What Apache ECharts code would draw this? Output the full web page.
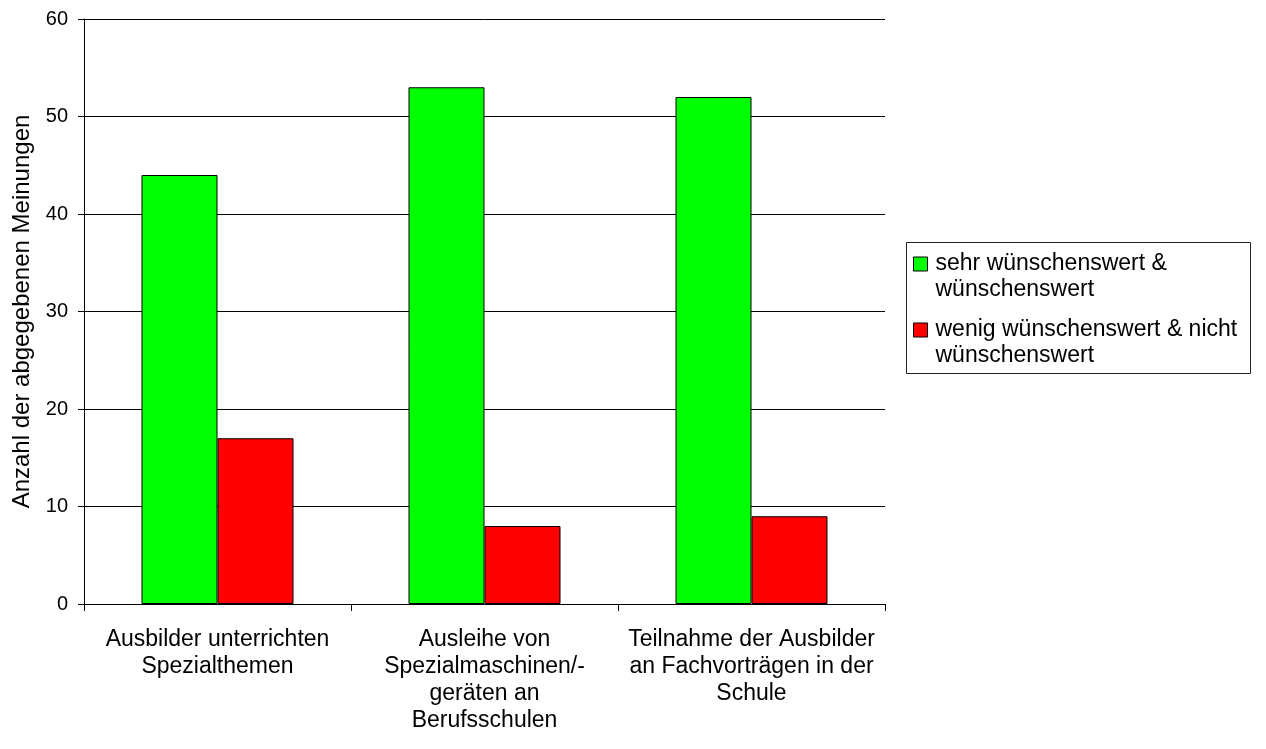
<!DOCTYPE html>
<html>
<head>
<meta charset="utf-8">
<script src="https://cdn.jsdelivr.net/npm/echarts@6/dist/echarts.min.js"></script>
<style>
html,body{margin:0;padding:0;background:#fff;}
#chart{width:1266px;height:749px;}
</style>
</head>
<body>
<div id="chart"></div>
<script>
const categories = [
  'Ausbilder unterrichten\nSpezialthemen',
  'Ausleihe von\nSpezialmaschinen/-\ngeräten an\nBerufsschulen',
  'Teilnahme der Ausbilder\nan Fachvorträgen in der\nSchule'
];
const seriesNames = [
  'sehr wünschenswert &\nwünschenswert',
  'wenig wünschenswert & nicht\nwünschenswert'
];
const positiveValues = [44, 53, 52];
const negativeValues = [17, 8, 9];
const yAxisName = 'Anzahl der abgegebenen Meinungen';

const FONT = "'Liberation Sans', Arial, sans-serif";
const chart = echarts.init(document.getElementById('chart'), null, {renderer: 'canvas'});
chart.setOption({
  animation: false,
  backgroundColor: '#ffffff',
  textStyle: {fontFamily: FONT, color: '#000'},
  grid: {left: 84, right: 381, top: 19, bottom: 145},
  legend: {
    orient: 'vertical',
    left: 913,
    top: 225,
    padding: 0,
    itemGap: -12,
    itemWidth: 14,
    itemHeight: 14,
    icon: 'rect',
    selectedMode: false,
    data: seriesNames,
    formatter: function (name) { return ' \n' + name; },
    itemStyle: {borderColor: '#000', borderWidth: 1},
    textStyle: {fontFamily: FONT, fontSize: 23, lineHeight: 26, color: '#000', padding: [0, 0, 0, 3]}
  },
  graphic: [{
    type: 'rect',
    shape: {x: 906.5, y: 242.5, width: 344, height: 131},
    style: {fill: 'none', stroke: '#222', lineWidth: 1},
    z: 10
  }],
  xAxis: {
    type: 'category',
    data: categories,
    axisLine: {show: true, lineStyle: {color: '#000', width: 1}},
    axisTick: {show: true, length: 7, lineStyle: {color: '#000'}},
    axisLabel: {fontFamily: FONT, fontSize: 23, lineHeight: 27, color: '#000', margin: 22, interval: 0}
  },
  yAxis: {
    type: 'value',
    min: 0,
    max: 60,
    interval: 10,
    name: yAxisName,
    nameLocation: 'middle',
    nameGap: 50,
    nameRotate: 90,
    nameTextStyle: {fontFamily: FONT, fontSize: 24, color: '#000'},
    axisLine: {show: true, lineStyle: {color: '#000', width: 1}},
    axisTick: {show: true, length: 6, lineStyle: {color: '#000'}},
    axisLabel: {fontFamily: FONT, fontSize: 20, color: '#000', margin: 16},
    splitLine: {show: true, lineStyle: {color: '#000', width: 1}}
  },
  series: [
    {
      name: seriesNames[0],
      type: 'bar',
      data: positiveValues,
      barWidth: 76,
      barGap: '0%',
      itemStyle: {color: '#00ff00', borderColor: '#000', borderWidth: 1}
    },
    {
      name: seriesNames[1],
      type: 'bar',
      data: negativeValues,
      barWidth: 76,
      barGap: '0%',
      itemStyle: {color: '#ff0000', borderColor: '#000', borderWidth: 1}
    }
  ]
});
</script>
</body>
</html>
